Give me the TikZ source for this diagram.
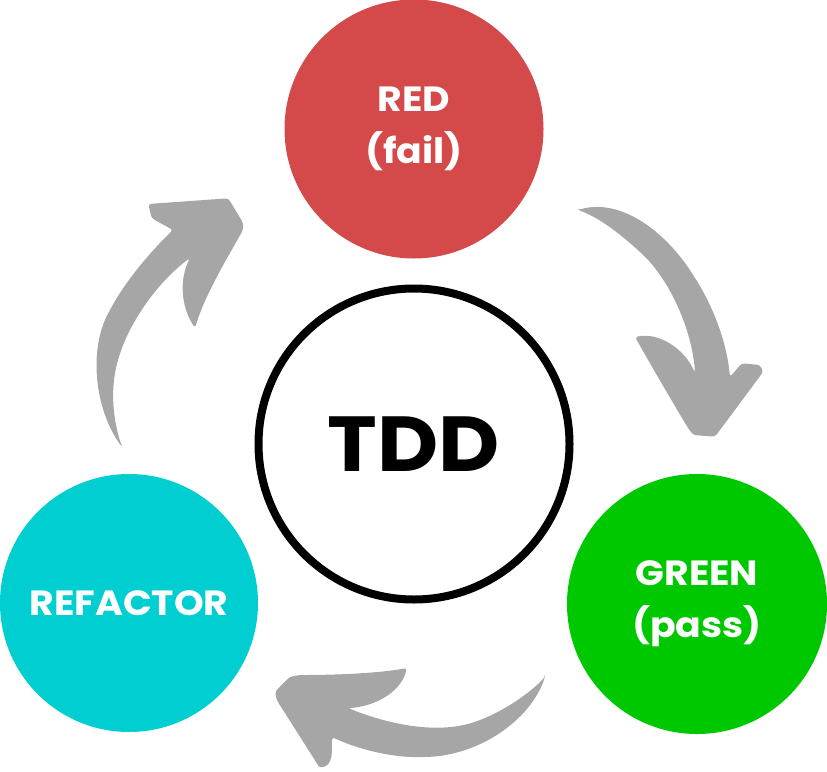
\documentclass[tikz,border=0pt]{standalone}
\usepackage{fontspec}
\setmainfont{Poppins}
\newfontfamily\widefont{Poppins}[FakeStretch=1.08]
\usepackage{tikz}

\definecolor{redstep}{RGB}{212,74,74}
\definecolor{greenstep}{RGB}{0,200,0}
\definecolor{refactorstep}{RGB}{0,206,209}
\definecolor{swooshgray}{RGB}{166,166,166}

\tikzset{
  stepcircle/.style={circle, inner sep=0pt, draw=none, text=white, align=center,
    font=\widefont\fontsize{35}{52}\selectfont\bfseries},
  swoosh/.style={fill=swooshgray, draw=none, rounded corners=3pt}
}

\begin{document}
\begin{tikzpicture}[x=1pt, y=-1pt]
  \useasboundingbox (0,0) rectangle (827,771);
  % the three steps and the centre
  \node[stepcircle, fill=redstep, minimum size=259pt] (red) at (414,129) {RED\\(fail)};
  \node[stepcircle, fill=greenstep, minimum size=260pt] (green) at (697,604) {GREEN\\(pass)};
  \node[stepcircle, fill=refactorstep, minimum size=258pt] (refactor) at (129,603) {REFACTOR};
  \node[circle, draw=black, line width=8pt, minimum size=311pt, inner sep=0pt,
    font=\widefont\fontsize{78}{80}\selectfont\bfseries] (tdd) at (414,444) {TDD};

  % refactor -> red
  \fill[swoosh] (122,447)
    .. controls (95,410) and (88,350) .. (110,310)
    .. controls (125,282) and (150,252) .. (173,230)
    -- (151.7,218.3) -- (148.3,204) -- (228.3,198.3) -- (243.3,223.3) -- (243,230)
    .. controls (225,262) and (205,295) .. (195,328)
    .. controls (180,305) and (180,278) .. (190,258)
    .. controls (160,280) and (130,320) .. (118,360)
    .. controls (110,390) and (113,420) .. (122,447)
    -- cycle;

  % red -> green
  \fill[swoosh] (578,210)
    .. controls (620,198) and (665,230) .. (695,278)
    .. controls (715,310) and (727,345) .. (730,377)
    -- (741.7,363.3) -- (760,365) -- (763.3,371.7) -- (715,436.7) -- (693.3,435) -- (688,428)
    .. controls (670,398) and (648,360) .. (635,337)
    .. controls (660,332) and (685,350) .. (695,373)
    .. controls (692,330) and (670,280) .. (640,252)
    .. controls (620,234) and (600,218) .. (578,210)
    -- cycle;

  % green -> refactor
  \fill[swoosh] (545,677)
    .. controls (530,720) and (480,755) .. (425,757)
    .. controls (390,758) and (355,748) .. (332,737)
    -- (331.7,756.7) -- (328.3,765) -- (320,768.3) -- (276.7,700) -- (275,691.7) -- (290,676.7) -- (300,675)
    .. controls (340,675) and (380,673) .. (407,668)
    .. controls (400,695) and (370,707) .. (348,708)
    .. controls (390,725) and (440,735) .. (480,720)
    .. controls (505,710) and (530,693) .. (545,677)
    -- cycle;
\end{tikzpicture}
\end{document}
